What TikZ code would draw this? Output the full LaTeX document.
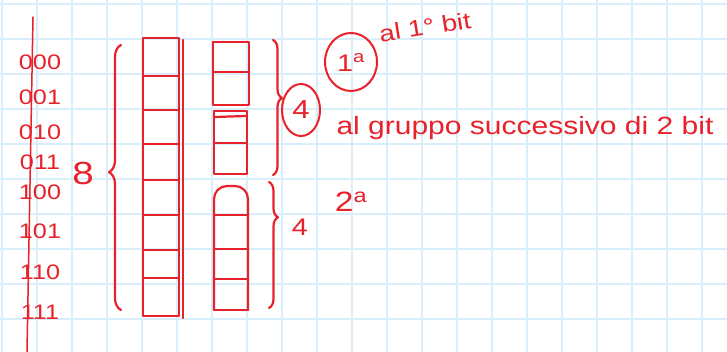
\documentclass[tikz,border=0pt]{standalone}
\usepackage{fontspec}
\setmainfont[FakeStretch=1.2]{Liberation Sans}
\usetikzlibrary{shapes.geometric,decorations.pathreplacing}
\definecolor{inkred}{HTML}{E8212B}
\definecolor{gridblue}{HTML}{D9EEFB}

\begin{document}
\begin{tikzpicture}[x=1pt,y=-1pt,
  ink/.style={draw=inkred,line width=2.2pt,line cap=round,line join=round},
  handtext/.style={text=inkred,inner sep=0pt},
  bitlbl/.style={handtext,font=\fontsize{21}{21}\selectfont},
  ring/.style={ellipse,draw=inkred,line width=2pt,inner sep=0pt,text=inkred},
  curly/.style n args={2}{ink,decorate,decoration={brace,amplitude=#1,aspect=#2}}]
%% squared paper
\fill[white] (0,0) rectangle (727,352);
\useasboundingbox (0,0) rectangle (727,352);
\foreach \gx in {2,37,...,722} \draw[gridblue,line width=2pt] (\gx,0) -- (\gx,352);
\foreach \gy in {4,39,...,319} \draw[gridblue,line width=2pt] (0,\gy) -- (727,\gy);
\draw[ink,line width=1.5pt] (33,17) -- (27,352);
%% addresses
\node[bitlbl] (b000) at (40,62) {000};
\node[bitlbl] (b001) at (40,97) {001};
\node[bitlbl] (b010) at (40,132) {010};
\node[bitlbl] (b011) at (40,162) {011};
\node[bitlbl] (b100) at (40,192) {100};
\node[bitlbl] (b101) at (40,231) {101};
\node[bitlbl] (b110) at (40,272) {110};
\node[bitlbl] (b111) at (40,312) {111};
\node[handtext,font=\fontsize{32}{32}\selectfont] (eight) at (83,173) {8};
\draw[curly={12}{0.52}] (121,310) -- (121,45);
%% whole memory, 8 cells
\draw[ink] (143,38) rectangle (179,316);
\draw[ink] (143,76) -- (179,76);
\draw[ink] (143,110) -- (179,110);
\draw[ink] (143,144) -- (179,144);
\draw[ink] (143,180) -- (179,180);
\draw[ink] (143,215) -- (179,215);
\draw[ink] (143,250) -- (179,250);
\draw[ink] (143,278) -- (179,278);
\draw[ink] (183,40) -- (183,318);
%% first half
\draw[ink] (213,42) rectangle (249,105);
\draw[ink] (213,72) -- (249,72);
\draw[ink] (214,111) rectangle (247,174);
\draw[ink] (215,117) -- (246,116);
\draw[ink] (214,143) -- (247,143);
\draw[curly={9}{0.43}] (273,40) -- (273,175);
\node[ring,minimum width=38pt,minimum height=52pt,font=\fontsize{26}{26}\selectfont] (cfour) at (301,110) {4};
%% second half
\draw[ink,rounded corners=13pt] (214,310) -- (214,186) -- (248,186) -- (248,310);
\draw[ink] (214,310) -- (248,310);
\draw[ink] (214,215) -- (248,215);
\draw[ink] (214,249) -- (248,249);
\draw[ink] (214,279) -- (248,279);
\draw[curly={9}{0.28}] (269,182) -- (269,308);
\node[handtext,font=\fontsize{24}{24}\selectfont] (four) at (300,227) {4};
%% notes
\node[ring,minimum width=52pt,minimum height=58pt,font=\fontsize{24}{24}\selectfont] (cfirst) at (351,62) {1\textsuperscript{a}};
\node[handtext,font=\fontsize{23}{23}\selectfont,rotate=9] (firstbit) at (425,27) {al 1° bit};
\node[handtext,font=\fontsize{25}{25}\selectfont] (nextbits) at (525,128) {al gruppo successivo di 2 bit};
\node[handtext,font=\fontsize{28}{28}\selectfont] (second) at (351,202) {2\textsuperscript{a}};
\end{tikzpicture}
\end{document}
